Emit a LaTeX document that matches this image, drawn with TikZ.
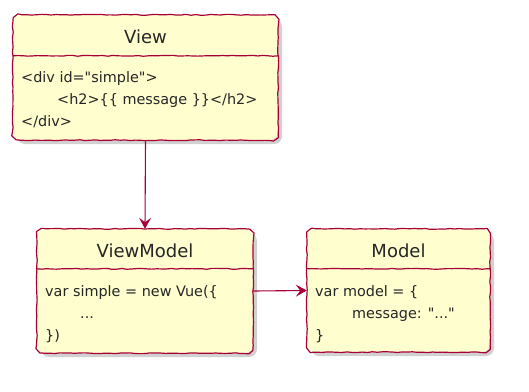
\documentclass[tikz,border=0pt]{standalone}
\usepackage{fontspec}
\setmainfont{DejaVu Sans}[Ligatures=TeXOff]
\usetikzlibrary{decorations.pathmorphing,shadows,arrows.meta,calc}
\definecolor{umlfill}{HTML}{FEFECE}
\definecolor{umlline}{HTML}{A80036}
\tikzset{
  hand/.style={decorate, decoration={random steps, segment length=5pt, amplitude=0.45pt}},
  umlbox/.style={rectangle, fill=umlfill, rounded corners=8pt, inner sep=0pt,
    drop shadow={shadow xshift=4pt, shadow yshift=-4pt, opacity=0.3, fill=black!60}},
  outline/.style={draw=umlline, line width=1.2pt, line join=round, hand},
  divline/.style={draw=umlline, line width=1.2pt, line join=round, hand},
  titletext/.style={font=\fontsize{18}{20}\selectfont, anchor=base, inner sep=0pt, text=black!85},
  bodytext/.style={font=\fontsize{14.4}{17}\selectfont, anchor=base west, inner sep=0pt, text=black!85},
  conn/.style={draw=umlline, line width=1.1pt, -{Stealth[length=11pt, width=12pt, inset=4.5pt]}},
}
\newcommand{\handoutline}[1]{%
  \draw[outline] ([xshift=8pt]#1.north west) -- ([xshift=-8pt]#1.north east)
    arc[start angle=90, end angle=0, radius=8pt] -- ([yshift=8pt]#1.south east)
    arc[start angle=0, end angle=-90, radius=8pt] -- ([xshift=8pt]#1.south west)
    arc[start angle=-90, end angle=-180, radius=8pt] -- ([yshift=-8pt]#1.north west)
    arc[start angle=180, end angle=90, radius=8pt] -- cycle;}
\begin{document}
\begin{tikzpicture}[x=1pt, y=-1pt]
\pgfmathsetseed{7}
\useasboundingbox (0,0) rectangle (529,391);
% View
\node[umlbox, minimum width=265pt, minimum height=125pt] (view) at (145.5,77.5) {};
\handoutline{view}
\draw[divline] ($(view.north west)+(0,41)$) -- ($(view.north east)+(0,41)$);
\node[titletext] (viewtitle) at (145.5,43) {View};
\node[bodytext] (viewl1) at (21,82) {<div id="simple">};
\node[bodytext] (viewl2) at (57,104) {<h2>\{\{ message \}\}</h2>};
\node[bodytext] (viewl3) at (21,126) {</div>};
% ViewModel
\node[umlbox, minimum width=216pt, minimum height=124pt] (vm) at (145,291) {};
\handoutline{vm}
\draw[divline] ($(vm.north west)+(0,40)$) -- ($(vm.north east)+(0,40)$);
\node[titletext] (vmtitle) at (145,257) {ViewModel};
\node[bodytext] (vml1) at (45,296) {var simple = new Vue(\{};
\node[bodytext] (vml2) at (80,318) {...};
\node[bodytext] (vml3) at (45,340) {\})};
% Model
\node[umlbox, minimum width=183pt, minimum height=123pt] (model) at (398.5,290.5) {};
\handoutline{model}
\draw[divline] ($(model.north west)+(0,40)$) -- ($(model.north east)+(0,40)$);
\node[titletext] (modeltitle) at (398.5,257) {Model};
\node[bodytext] (modell1) at (315,296) {var model = \{};
\node[bodytext] (modell2) at (352,318) {message: "..."};
\node[bodytext] (modell3) at (315,340) {\}};
% connectors
\draw[conn] (view.south) -- (vm.north);
\draw[conn] (vm.east) -- (model.west);
\end{tikzpicture}
\end{document}
